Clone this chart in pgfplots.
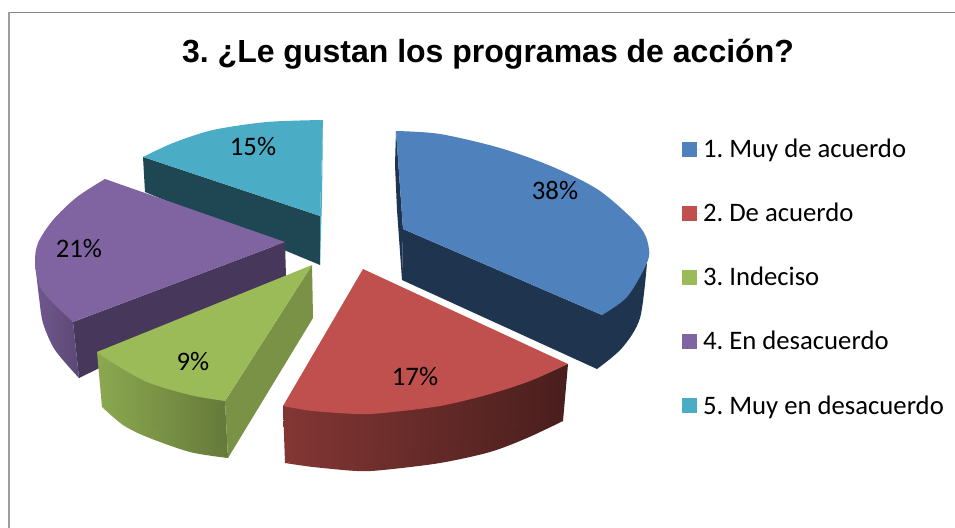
\documentclass[border=0pt]{standalone}
\usepackage{fontspec}
\setmainfont{Carlito}
\newfontfamily\titlefont{Liberation Sans}
\usepackage{pgfplots}
\pgfplotsset{compat=1.18}
\definecolor{cblue}{HTML}{4F81BD}
\definecolor{cred}{HTML}{C0504D}
\definecolor{cgreen}{HTML}{9BBB59}
\definecolor{cpurple}{HTML}{8064A2}
\definecolor{cteal}{HTML}{4BACC6}
\definecolor{dblue}{HTML}{1F344F}
\definecolor{dpurple}{HTML}{47375A}
\definecolor{dteal}{HTML}{1F4653}
\definecolor{framec}{HTML}{868686}
\begin{document}
\frenchspacing
\begin{tikzpicture}
\begin{axis}[
  scale only axis, width=955bp, height=528bp,
  xmin=0, xmax=955, ymin=0, ymax=528, y dir=reverse,
  hide axis,
  legend style={at={(axis cs:682,137)},anchor=north west,draw=none,fill=none,
    font=\frenchspacing\fontsize{26.7bp}{30bp}\selectfont,row sep=40.1bp,
    /tikz/every even column/.append style={column sep=0pt},
    inner sep=0pt,outer sep=0pt},
  legend cell align=left,
  legend image code/.code={\fill[#1,draw=none] (0bp,-7.5bp) rectangle (15bp,7.5bp);\path (0bp,0bp) -- (19bp,0bp);},
]
% page and frame
\addplot[forget plot,fill=white,draw=none] coordinates {(0,0)(955,0)(955,528)(0,528)} -- cycle;
\addplot[forget plot,color=framec,line width=1.2bp] coordinates {(955,12.5)(9,12.5)};
\addplot[forget plot,color=framec!80,line width=2bp] coordinates {(9,12)(9,528)};
% inner and outer side faces
\addplot[forget plot,fill=dteal,draw=none] coordinates {(143,157)(145,192)(320,265)(320,216)} -- cycle;
\addplot[forget plot,fill=cteal,draw=none] coordinates {(323,120)(320,216)(320,265)(322,200)} -- cycle;
\addplot[forget plot,fill=dpurple,draw=none] coordinates {(285,242)(286,277)(79,378)(73,322)} -- cycle;
\addplot[forget plot,draw=none,shade,shading=axis,left color=cpurple!88!black,right color=cpurple!72!black] coordinates {(35,263)(53,330)(79,378)(73,322)} -- cycle;
\addplot[forget plot,smooth,draw=none,shade,shading=axis,left color=cpurple!88!black,right color=cpurple!72!black] coordinates {(35,263)(39,297)(43,323)(55,350)(79,378)};
\addplot[forget plot,fill=dblue,draw=none] coordinates {(396,131)(395,165)(397,210)(402,280)(403,229)} -- cycle;
\addplot[forget plot,fill=dblue,draw=none] coordinates {(402,280)(597,369)(628,322)(647,263)(602,315)(403,229)} -- cycle;
\addplot[forget plot,smooth,fill=dblue,draw=none] coordinates {(597,369)(622,348)(640,318)(647,263)};
\addplot[forget plot,draw=none,shade,shading=axis,left color=cred!68!black,right color=cred!38!black] coordinates {(283,406)(285,463)(424,452)(563,421)(568,364)} -- cycle;
\addplot[forget plot,smooth,draw=none,shade,shading=axis,left color=cred!68!black,right color=cred!38!black] coordinates {(285,463)(313,467)(357,471)(383,470)(440,463)(490,452)(527,438)(563,421)};
\addplot[forget plot,draw=none,shade,shading=axis,left color=cgreen!90!black,right color=cgreen!65!black] coordinates {(97,352)(102,407)(170,439)(228,458)(225,401)} -- cycle;
\addplot[forget plot,smooth,draw=none,shade,shading=axis,left color=cgreen!90!black,right color=cgreen!65!black] coordinates {(102,407)(123,425)(147,437)(190,452)(228,458)};
\addplot[forget plot,fill=cgreen!78!black,draw=none] coordinates {(312,265)(313,318)(228,458)(225,401)} -- cycle;
% top faces (these carry the legend)
\addplot[fill=cblue,draw=none] coordinates {(403,229)(396,131)(520,190)(602,315)} -- cycle;
\addlegendentry{1. Muy de acuerdo}
\addplot[forget plot,smooth,fill=cblue,draw=none] coordinates {(396,131)(440,134)(500,148)(553,167)(600,191)(640,227)(649,249)(646,265)(627,297)(602,315)};
\addplot[fill=cred,draw=none] coordinates {(363,269)(568,364)(425,395)(283,406)} -- cycle;
\addlegendentry{2. De acuerdo}
\addplot[forget plot,smooth,fill=cred,draw=none] coordinates {(283,406)(313,411)(357,414)(383,413)(440,406)(490,394)(530,381)(568,364)};
\addplot[fill=cgreen,draw=none] coordinates {(312,265)(97,352)(165,382)(225,401)} -- cycle;
\addlegendentry{3. Indeciso}
\addplot[forget plot,smooth,fill=cgreen,draw=none] coordinates {(97,352)(113,363)(147,382)(190,395)(225,401)};
\addplot[fill=cpurple,draw=none] coordinates {(285,242)(105,179)(60,250)(73,322)} -- cycle;
\addlegendentry{4. En desacuerdo}
\addplot[forget plot,smooth,fill=cpurple,draw=none] coordinates {(105,179)(77,197)(53,220)(38,243)(35,263)(40,287)(53,303)(73,322)};
\addplot[fill=cteal,draw=none] coordinates {(320,216)(143,157)(240,131)(323,120)} -- cycle;
\addlegendentry{5. Muy en desacuerdo}
\addplot[forget plot,smooth,fill=cteal,draw=none] coordinates {(143,157)(173,143)(213,130)(267,122)(323,120)};
% data labels
\node[font=\fontsize{26.7bp}{30bp}\selectfont] at (axis cs:555,190) {38\%};
\node[font=\fontsize{26.7bp}{30bp}\selectfont] at (axis cs:415,376) {17\%};
\node[font=\fontsize{26.7bp}{30bp}\selectfont] at (axis cs:193,361) {9\%};
\node[font=\fontsize{26.7bp}{30bp}\selectfont] at (axis cs:79,249) {21\%};
\node[font=\fontsize{26.7bp}{30bp}\selectfont] at (axis cs:253,147) {15\%};
\node[font=\titlefont\bfseries\fontsize{32bp}{36bp}\selectfont] at (axis cs:488,54) {3. ¿Le gustan los programas de acción?};
\end{axis}
\end{tikzpicture}
\end{document}
